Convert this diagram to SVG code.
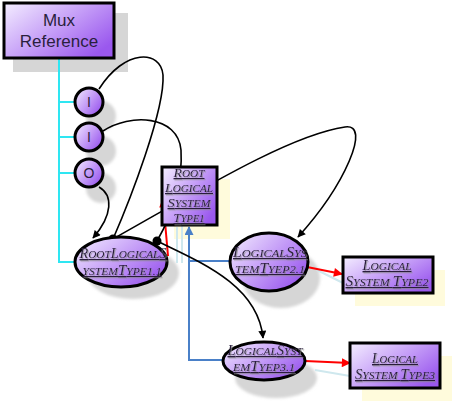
<svg xmlns="http://www.w3.org/2000/svg" width="455" height="401" viewBox="0 0 455 401">
<defs>
<linearGradient id="pg" x1="0" y1="0" x2="1" y2="0.7">
<stop offset="0" stop-color="#f4eeff"/>
<stop offset="0.55" stop-color="#c49cf7"/>
<stop offset="1" stop-color="#9a58ee"/>
</linearGradient>
<filter id="ts" x="-10%" y="-30%" width="120%" height="160%">
<feDropShadow dx="1" dy="1.2" stdDeviation="0.5" flood-color="#8a8a8a" flood-opacity="0.7"/>
</filter>
<filter id="bl" x="-20%" y="-20%" width="140%" height="140%">
<feGaussianBlur stdDeviation="1.5"/>
</filter>
<marker id="ab" viewBox="0 0 10 10" refX="9" refY="5" markerWidth="10" markerHeight="8" markerUnits="userSpaceOnUse" orient="auto">
<path d="M0,0 L10,5 L0,10 Z" fill="#000"/>
</marker>
<marker id="ar" viewBox="0 0 10 10" refX="9" refY="5" markerWidth="11" markerHeight="9" markerUnits="userSpaceOnUse" orient="auto">
<path d="M0,0 L10,5 L0,10 Z" fill="#f00"/>
</marker>
<marker id="au" viewBox="0 0 10 10" refX="9" refY="5" markerWidth="11" markerHeight="9" markerUnits="userSpaceOnUse" orient="auto">
<path d="M0,0 L10,5 L0,10 Z" fill="#4a80c8"/>
</marker>
</defs>
<style>
.sh{fill:#d6d6d6}
.ysh{fill:#fffbdc}
.nd{fill:url(#pg);stroke:#000;stroke-width:3}
.mux{font-family:"Liberation Sans",Arial,sans-serif;font-size:17px;fill:#2a1f3d;text-anchor:middle}
.io{font-family:"Liberation Sans",Arial,sans-serif;font-size:14px;fill:#2a1f3d;text-anchor:middle}
.sc{font-family:"Liberation Serif","Times New Roman",serif;font-style:italic;font-size:14px;fill:#2a1f3d;text-anchor:middle;text-decoration:underline;filter:url(#ts)}
.sm{font-size:11px;text-transform:uppercase}
.blk{fill:none;stroke:#000;stroke-width:1.6}
.red{fill:none;stroke:#f00;stroke-width:2}
.blu{fill:none;stroke:#4a80c8;stroke-width:2}
.cy{fill:none;stroke:#2ee6f2;stroke-width:2}
.fnt{fill:none;stroke:#cfe8ee;stroke-width:2}
</style>

<g id="shadows">
<rect class="sh" x="13" y="13" width="115" height="59"/>
<circle class="sh" cx="101" cy="116" r="15" filter="url(#bl)"/>
<circle class="sh" cx="101" cy="151" r="15" filter="url(#bl)"/>
<circle class="sh" cx="101" cy="188" r="15" filter="url(#bl)"/>
<ellipse class="sh" cx="133" cy="273" rx="46" ry="26" filter="url(#bl)"/>
<ellipse class="sh" cx="281" cy="278" rx="39" ry="30" filter="url(#bl)"/>
<ellipse class="sh" cx="276" cy="378" rx="41" ry="20" filter="url(#bl)"/>
<rect class="ysh" x="174" y="179" width="56" height="60"/>
<rect class="ysh" x="355" y="270" width="90" height="36"/>
<rect class="ysh" x="362" y="356" width="90" height="45"/>
</g>

<g id="connectors">
<path class="cy" d="M59,58 V262 H76"/>
<path class="cy" d="M59,102 H75"/>
<path class="cy" d="M59,137 H75"/>
<path class="cy" d="M59,173 H75"/>
<path class="fnt" d="M177,227 V263"/>
<path class="fnt" d="M182,223 V263"/>
<path class="fnt" d="M317,270 L343,283"/>
<path class="fnt" d="M315,370 L350,376"/>
<path class="blu" d="M230,261 H189"/>
<path class="blu" d="M223,360 H189 V227" marker-end="url(#au)"/>
<path class="red" d="M168,256 L163,199" marker-end="url(#ar)"/>
<path class="red" d="M307,267 L342,274" marker-end="url(#ar)"/>
<path class="red" d="M305,361 L350,363" marker-end="url(#ar)"/>
<path class="blk" d="M113,239 C130,200 165,110 163,75 C161,50 125,48 99,89"/>
<path class="blk" d="M103,131 C130,113 178,115 181,150 C183,185 172,215 157,241"/>
<path class="blk" d="M113,239 C200,190 290,135 345,127 C372,123 345,185 298,237" marker-end="url(#ab)"/>
<path class="blk" d="M99,187 C113,195 113,215 93,238" marker-end="url(#ab)"/>
<path class="blk" d="M157,241 C200,262 258,285 263,338" marker-end="url(#ab)"/>
<circle cx="113" cy="239" r="4.5" fill="#000"/>
<circle cx="157" cy="241" r="4.5" fill="#000"/>
</g>

<g id="mux-reference">
<rect class="nd" x="4" y="3" width="110" height="55"/>
<text class="mux" x="59" y="26">Mux</text>
<text class="mux" x="59" y="47">Reference</text>
</g>

<g id="port-i1">
<circle class="nd" cx="89" cy="102" r="14" stroke-width="2.5"/>
<text class="io" x="89" y="107">I</text>
</g>
<g id="port-i2">
<circle class="nd" cx="89" cy="137" r="14" stroke-width="2.5"/>
<text class="io" x="89" y="142">I</text>
</g>
<g id="port-o">
<circle class="nd" cx="89" cy="173" r="14" stroke-width="2.5"/>
<text class="io" x="89" y="178">O</text>
</g>

<g id="root-logical-system-type1">
<rect class="nd" x="162" y="167" width="55" height="58" stroke-width="2.5"/>
<text class="sc" x="189" y="177" textLength="31" lengthAdjust="spacingAndGlyphs" style="font-size:13px">R<tspan class="sm" style="font-size:10.5px">oot</tspan></text>
<text class="sc" x="189" y="192" textLength="48" lengthAdjust="spacingAndGlyphs" style="font-size:13px">L<tspan class="sm" style="font-size:10.5px">ogical</tspan></text>
<text class="sc" x="189" y="207" textLength="43" lengthAdjust="spacingAndGlyphs" style="font-size:13px">S<tspan class="sm" style="font-size:10.5px">ystem</tspan></text>
<text class="sc" x="189" y="222" textLength="31" lengthAdjust="spacingAndGlyphs" style="font-size:13px">T<tspan class="sm" style="font-size:10.5px">ype1</tspan></text>
</g>

<g id="root-logical-system-type1-1">
<ellipse class="nd" cx="121" cy="262" rx="46" ry="25"/>
<text class="sc" x="123" y="258" textLength="87" lengthAdjust="spacingAndGlyphs">R<tspan class="sm">oot</tspan>L<tspan class="sm">ogical</tspan>S</text>
<text class="sc" x="122" y="275" textLength="79" lengthAdjust="spacingAndGlyphs"><tspan class="sm">ystem</tspan>T<tspan class="sm">ype1.1</tspan></text>
</g>

<g id="logical-system-type2-1">
<ellipse class="nd" cx="269" cy="262" rx="39" ry="29"/>
<text class="sc" x="270" y="257" textLength="74" lengthAdjust="spacingAndGlyphs">L<tspan class="sm">ogical</tspan>S<tspan class="sm">ys</tspan></text>
<text class="sc" x="270" y="273" textLength="70" lengthAdjust="spacingAndGlyphs"><tspan class="sm">tem</tspan>T<tspan class="sm">yep2.1</tspan></text>
</g>

<g id="logical-system-type2">
<rect class="nd" x="343" y="257" width="90" height="36" stroke-width="2.5"/>
<text class="sc" x="387" y="270" textLength="49" lengthAdjust="spacingAndGlyphs">L<tspan class="sm">ogical</tspan></text>
<text class="sc" x="387" y="286" textLength="83" lengthAdjust="spacingAndGlyphs">S<tspan class="sm">ystem </tspan>T<tspan class="sm">ype2</tspan></text>
</g>

<g id="logical-system-type3-1">
<ellipse class="nd" cx="264" cy="361" rx="41" ry="19"/>
<text class="sc" x="265" y="355" textLength="75" lengthAdjust="spacingAndGlyphs">L<tspan class="sm">ogical</tspan>S<tspan class="sm">yst</tspan></text>
<text class="sc" x="264" y="371" textLength="62" lengthAdjust="spacingAndGlyphs"><tspan class="sm">em</tspan>T<tspan class="sm">yep3.1</tspan></text>
</g>

<g id="logical-system-type3">
<rect class="nd" x="350" y="343" width="90" height="45" stroke-width="2.5"/>
<text class="sc" x="395" y="363" textLength="46" lengthAdjust="spacingAndGlyphs">L<tspan class="sm">ogical</tspan></text>
<text class="sc" x="395" y="379" textLength="80" lengthAdjust="spacingAndGlyphs">S<tspan class="sm">ystem </tspan>T<tspan class="sm">ype3</tspan></text>
</g>
</svg>
